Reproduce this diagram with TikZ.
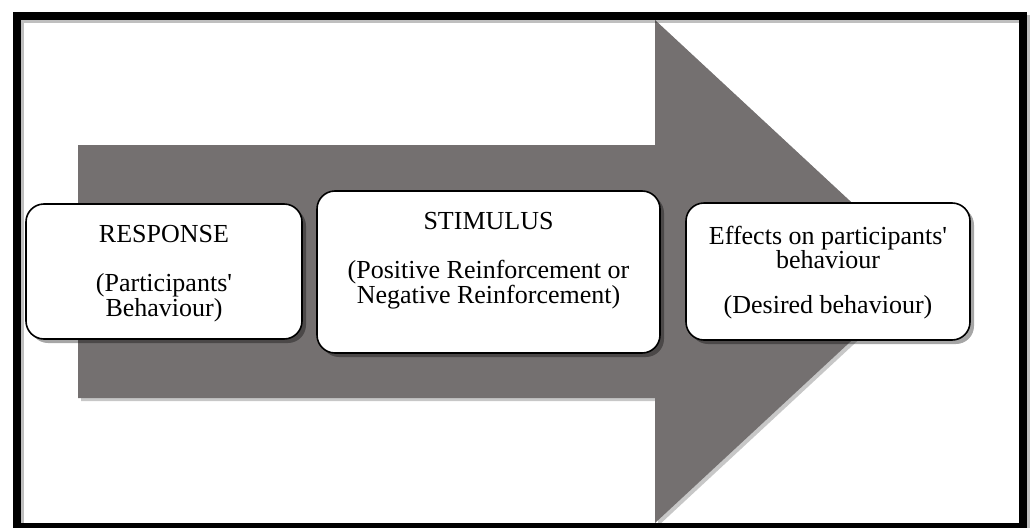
\documentclass[tikz,border=0pt]{standalone}
\usepackage{fontspec}
\setmainfont{Liberation Serif}[Ligatures=TeXOff]
\usetikzlibrary{shadows}
\definecolor{arrowgray}{RGB}{116,112,112}
\begin{document}
\begin{tikzpicture}[x=1pt,y=-1pt,
  frameline/.style={draw=black,line width=8pt},
  frameshadow/.style={draw=black,opacity=0.25,line width=8pt},
  arrowbody/.style={fill=arrowgray,draw=none},
  arrowshadow/.style={fill=black,opacity=0.22,draw=none},
  box/.style={rectangle,draw=black,line width=1.6pt,fill=white,rounded corners=18pt,inner sep=0pt,
    drop shadow={shadow xshift=4pt,shadow yshift=-4pt,opacity=0.35,fill=black}},
  lbl/.style={font=\fontsize{26}{24.5}\selectfont,align=center,anchor=north,inner sep=0pt,text=black}]
\useasboundingbox (0,0) rectangle (1032,527);
\fill[white] (0,0) rectangle (1032,527);
% arrow
\fill[arrowshadow] (81,148) -- (658,148) -- (658,23) -- (929,274.5) -- (658,526) -- (658,401) -- (81,401) -- cycle;
\fill[arrowbody] (78,145) -- (655,145) -- (655,20) -- (926,271.5) -- (655,523) -- (655,398) -- (78,398) -- cycle;
% frame
\draw[frameshadow] (20,19) rectangle (1026,530);
\draw[frameline] (17,16) rectangle (1023,527);
% boxes
\node[box,minimum width=276pt,minimum height=135pt] (resp) at (164,271.5) {};
\node[box,minimum width=343pt,minimum height=162pt] (stim) at (488.5,272) {};
\node[box,minimum width=284pt,minimum height=137pt] (eff) at (828,271.5) {};
% texts
\node[lbl] (resptext) at (164,225) {RESPONSE\\[25pt](Participants'\\Behaviour)};
\node[lbl] (stimtext) at (488.5,212) {STIMULUS\\[25pt](Positive Reinforcement or\\Negative Reinforcement)};
\node[lbl] (efftext) at (828,225.5) {Effects on participants'\\behaviour\\[20pt](Desired behaviour)};
\end{tikzpicture}
\end{document}
